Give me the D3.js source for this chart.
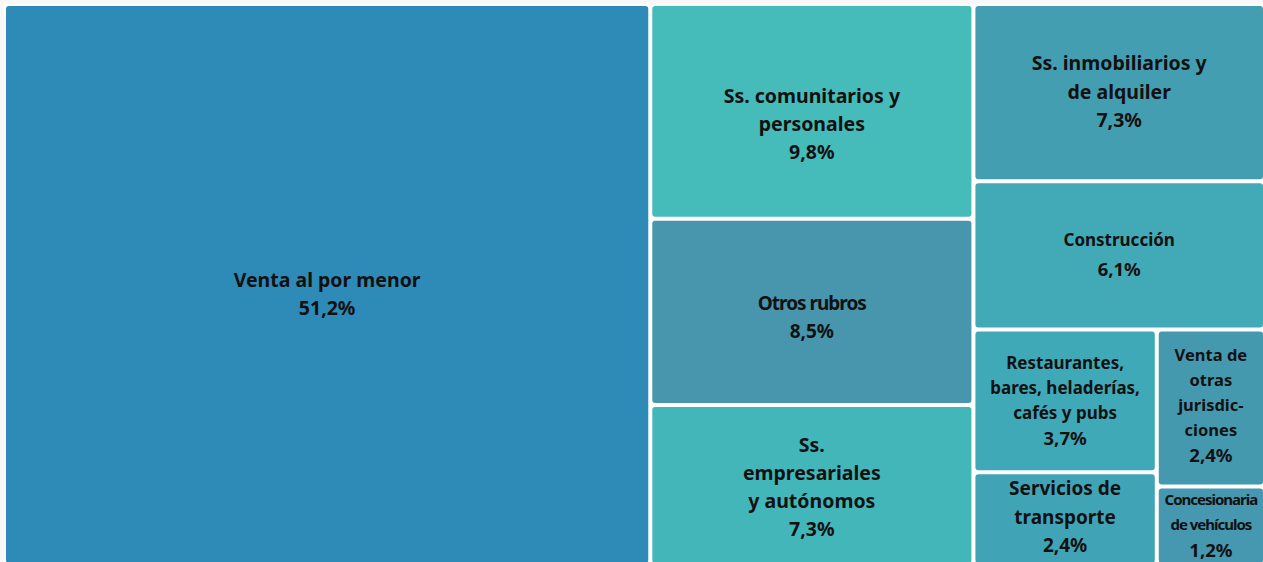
<!DOCTYPE html>
<html>
<head>
<meta charset="utf-8">
<script src="https://cdn.jsdelivr.net/npm/d3@7"></script>
<style>
  html, body { margin: 0; padding: 0; background: #f8f8f8; overflow: hidden; }
  svg { display: block; }
  text { font-family: "Noto Sans", "Open Sans", sans-serif; font-weight: 700; fill: #111; }
</style>
</head>
<body>
<svg id="chart" width="1263" height="562"></svg>
<script>
// ---- data ----
const categories = [
  "Venta al por menor",
  "Ss. comunitarios y personales",
  "Otros rubros",
  "Ss. empresariales y autónomos",
  "Ss. inmobiliarios y de alquiler",
  "Construcción",
  "Restaurantes, bares, heladerías, cafés y pubs",
  "Servicios de transporte",
  "Venta de otras jurisdicciones",
  "Concesionaria de vehículos"
];
const shares = [51.2, 9.8, 8.5, 7.3, 7.3, 6.1, 3.7, 2.4, 2.4, 1.2];
const valueLabels = ["51,2%", "9,8%", "8,5%", "7,3%", "7,3%", "6,1%", "3,7%", "2,4%", "2,4%", "1,2%"];
const labelLines = [
  ["Venta al por menor"],
  ["Ss. comunitarios y", "personales"],
  ["Otros rubros"],
  ["Ss.", "empresariales", "y autónomos"],
  ["Ss. inmobiliarios y", "de alquiler"],
  ["Construcción"],
  ["Restaurantes,", "bares, heladerías,", "cafés y pubs"],
  ["Servicios de", "transporte"],
  ["Venta de", "otras", "jurisdic-", "ciones"],
  ["Concesionaria", "de vehículos"]
];
// nesting path of each category (group ids) as it appears in the treemap
const groupPath = [
  [],
  ["g2"],
  ["g2"],
  ["g2"],
  ["g3"],
  ["g3"],
  ["g3", "g4", "g5"],
  ["g3", "g4", "g5"],
  ["g3", "g4", "g6"],
  ["g3", "g4", "g6"]
];
const colors = ["#2e8bb8", "#45bbba", "#4895ae", "#43b6ba", "#449eb1",
                "#42a9b7", "#3fa9b8", "#41a4b6", "#4599af", "#4598af"];

// ---- label styling (not data): font size, line height, vertical nudge ----
const labelStyle = {
  "Venta al por menor": { fs: 19.5, lh: 28, dy: 8 },
  "Ss. comunitarios y personales": { fs: 19.5, lh: 28, dy: 12 },
  "Otros rubros": { fs: 19, lh: 28, dy: 5, condensed: true },
  "Ss. empresariales y autónomos": { fs: 19.5, lh: 28, dy: 1 },
  "Ss. inmobiliarios y de alquiler": { fs: 19.5, lh: 28.5, dy: -2 },
  "Construcción": { fs: 17, lh: 29, dy: -2 },
  "Restaurantes, bares, heladerías, cafés y pubs": { fs: 17, lh: 25, dy: -1 },
  "Servicios de transporte": { fs: 19, lh: 28.5, dy: -2 },
  "Venta de otras jurisdicciones": { fs: 16.5, lh: 25, dy: -4 },
  "Concesionaria de vehículos": { fs: 15, lh: 25, dy: -2, condensed: true }
};

// ---- build hierarchy ----
const root = { name: "root", children: [] };
categories.forEach((c, i) => {
  let node = root;
  groupPath[i].forEach(g => {
    let child = node.children.find(d => d.name === g);
    if (!child) { child = { name: g, children: [] }; node.children.push(child); }
    node = child;
  });
  node.children.push({ name: c, value: shares[i], idx: i });
});

const W = 1263, H = 562;
const x0 = 6, y0 = 6, tw = 1257, th = 557;

const hier = d3.hierarchy(root).sum(d => d.value || 0);
d3.treemap()
  .tile(d3.treemapSliceDice)
  .size([tw, th])
  .paddingInner(4)
  (hier);

const svg = d3.select("#chart");
svg.append("rect").attr("x", x0 - 2).attr("y", y0 - 2).attr("width", W - x0 + 2).attr("height", H)
   .attr("fill", "#ffffff");

const g = svg.append("g").attr("transform", `translate(${x0},${y0})`);

const leaves = g.selectAll("g.leaf").data(hier.leaves()).join("g").attr("class", "leaf");

leaves.append("rect")
  .attr("x", d => d.x0).attr("y", d => d.y0)
  .attr("width", d => d.x1 - d.x0).attr("height", d => d.y1 - d.y0)
  .attr("rx", 3).attr("ry", 3)
  .attr("fill", d => colors[d.data.idx]);

leaves.each(function(d) {
  const i = d.data.idx;
  const name = categories[i];
  const st = labelStyle[name];
  const lines = labelLines[i].concat([valueLabels[i]]);
  const cx = (d.x0 + d.x1) / 2, cy = (d.y0 + d.y1) / 2 + st.dy;
  const startY = cy - (lines.length - 1) * st.lh / 2;
  const t = d3.select(this).append("text")
    .attr("text-anchor", "middle")
    .attr("dominant-baseline", "central")
    .style("font-size", st.fs + "px");
  lines.forEach((ln, k) => {
    const isValue = k === lines.length - 1;
    t.append("tspan")
      .attr("x", cx)
      .attr("y", startY + k * st.lh)
      .style("letter-spacing", (st.condensed && !isValue) ? "-1px" : null)
      .style("font-size", (isValue && st.fs < 19) ? "18.5px" : null)
      .text(ln);
  });
});
</script>
</body>
</html>
